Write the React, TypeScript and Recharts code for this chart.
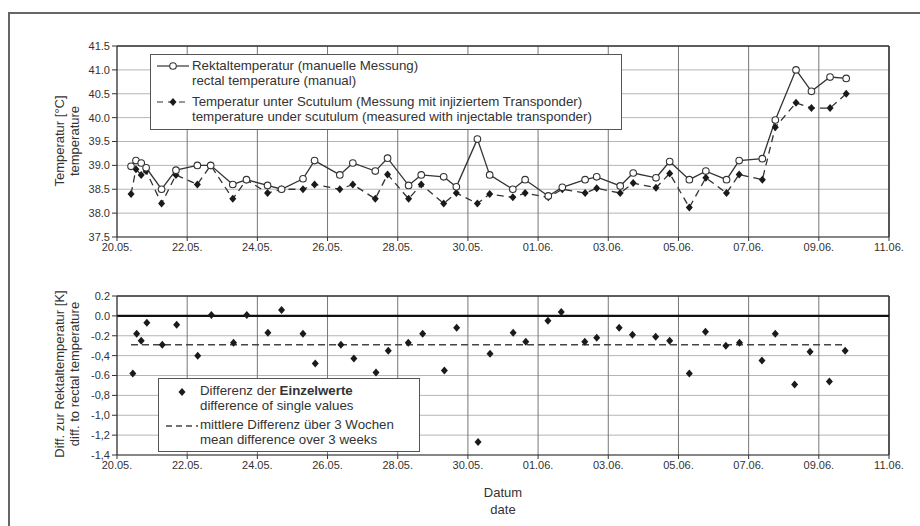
import React from 'react';
import { ComposedChart, Line, Scatter, XAxis, YAxis, CartesianGrid, ReferenceLine } from 'recharts';

// day offset from 20.05.
const dayTicks = [0, 2, 4, 6, 8, 10, 12, 14, 16, 18, 20, 22];
const dateLabels = ['20.05.', '22.05.', '24.05.', '26.05.', '28.05.', '30.05.', '01.06.', '03.06.', '05.06.', '07.06.', '09.06.', '11.06.'];

const tempTicks = [37.5, 38, 38.5, 39, 39.5, 40, 40.5, 41, 41.5];
const tempTickLabels = ['37.5', '38.0', '38.5', '39.0', '39.5', '40.0', '40.5', '41.0', '41.5'];

const diffTicks = [-1.4, -1.2, -1, -0.8, -0.6, -0.4, -0.2, 0, 0.2];
const diffTickLabels = ['-1,4', '-1,2', '-1,0', '-0,8', '-0.6', '-0,4', '-0.2', '0.0', '0.2'];

const measureDays = [0.40, 0.54, 0.69, 0.83, 1.27, 1.68, 2.29, 2.67, 3.30, 3.69, 4.29, 4.69, 5.30, 5.63, 6.35, 6.72, 7.36, 7.71, 8.31, 8.67, 9.31, 9.67, 10.27, 10.62, 11.28, 11.63, 12.29, 12.69, 13.34, 13.67, 14.34, 14.71, 15.36, 15.75, 16.31, 16.78, 17.37, 17.73, 18.39, 18.76, 19.35, 19.79, 20.32, 20.78];

const rectalTemp = [38.98, 39.1, 39.05, 38.95, 38.5, 38.9, 39.0, 39.0, 38.6, 38.7, 38.58, 38.5, 38.72, 39.1, 38.8, 39.05, 38.88, 39.15, 38.58, 38.8, 38.76, 38.55, 39.55, 38.8, 38.5, 38.7, 38.36, 38.54, 38.7, 38.76, 38.57, 38.84, 38.74, 39.08, 38.7, 38.88, 38.7, 39.1, 39.14, 39.95, 41.0, 40.55, 40.85, 40.82];

const scutulumTemp = [38.4, 38.92, 38.8, 38.88, 38.2, 38.8, 38.6, 39.0, 38.3, 38.7, 38.42, 38.5, 38.5, 38.6, 38.5, 38.6, 38.3, 38.81, 38.3, 38.6, 38.2, 38.42, 38.2, 38.4, 38.33, 38.42, 38.33, 38.5, 38.42, 38.52, 38.42, 38.63, 38.53, 38.83, 38.12, 38.74, 38.42, 38.81, 38.7, 39.8, 40.31, 40.2, 40.2, 40.5];

const diffDays = [0.45, 0.56, 0.69, 0.85, 1.29, 1.70, 2.30, 2.69, 3.32, 3.70, 4.30, 4.69, 5.30, 5.65, 6.38, 6.75, 7.38, 7.73, 8.30, 8.71, 9.33, 9.68, 10.29, 10.63, 11.29, 11.65, 12.28, 12.66, 13.33, 13.67, 14.31, 14.69, 15.35, 15.75, 16.31, 16.77, 17.35, 17.74, 18.38, 18.76, 19.31, 19.75, 20.30, 20.75];

const diffValues = [-0.58, -0.18, -0.25, -0.07, -0.29, -0.09, -0.40, 0.01, -0.27, 0.01, -0.17, 0.06, -0.18, -0.48, -0.29, -0.43, -0.57, -0.35, -0.27, -0.18, -0.55, -0.12, -1.27, -0.38, -0.17, -0.26, -0.05, 0.04, -0.26, -0.22, -0.12, -0.19, -0.21, -0.25, -0.58, -0.16, -0.30, -0.27, -0.45, -0.18, -0.69, -0.36, -0.66, -0.35];

const meanDays = [0.4, 20.75];
const meanValues = [-0.29, -0.29];

const tempData = measureDays.map((d, i) => ({ day: d, rectal: rectalTemp[i], scut: scutulumTemp[i] }));
const diffData = diffDays.map((d, i) => ({ day: d, diff: diffValues[i] }));
const meanData = meanDays.map((d, i) => ({ day: d, mean: meanValues[i] }));

const FONT = '"Liberation Sans", Arial, sans-serif';

const fmt = (ticks: number[], labels: string[]) => (v: number) => {
  const i = ticks.findIndex((t) => Math.abs(t - v) < 1e-6);
  return i >= 0 ? labels[i] : String(v);
};

const Diamond = (props: any) => {
  const { cx, cy } = props;
  if (cx == null || cy == null) return <g />;
  return <path d={`M${cx},${cy - 4} L${cx + 3.5},${cy} L${cx},${cy + 4} L${cx - 3.5},${cy} Z`} fill="#1a1a1a" />;
};

const OpenCircle = (props: any) => {
  const { cx, cy } = props;
  if (cx == null || cy == null) return <g />;
  return <circle cx={cx} cy={cy} r={3.3} fill="#fff" stroke="#333" strokeWidth={1.1} />;
};

const tickStyle = { fontSize: 11, fill: '#333', fontFamily: FONT };

const legendText: React.CSSProperties = { fontSize: 13.3, fontFamily: FONT, color: '#333', lineHeight: '16px', whiteSpace: 'nowrap' };

const titleStyle: React.CSSProperties = { position: 'absolute', fontSize: 13, fontFamily: FONT, color: '#333', whiteSpace: 'nowrap' };

export default function App() {
  return (
    <div style={{ position: 'absolute', left: 0, top: 0, width: 920, height: 526, background: '#fff', overflow: 'hidden' }}>
      <div style={{ position: 'absolute', left: 8, top: 12, width: 912, height: 514, borderLeft: '2px solid #666', borderTop: '2px solid #666' }} />

      <div style={{ position: 'absolute', left: 0, top: 0 }}>
        <ComposedChart width={920} height={262} data={tempData} margin={{ top: 46, right: 31, left: 57, bottom: 0 }}>
          <CartesianGrid vertical={false} stroke="#b5b5b5" />
          <CartesianGrid horizontal={false} stroke="#777" />
          <XAxis dataKey="day" type="number" domain={[0, 22]} ticks={dayTicks} tickFormatter={fmt(dayTicks, dateLabels)} height={25} tick={tickStyle} stroke="#333" tickSize={4} interval={0} />
          <YAxis type="number" domain={[37.5, 41.5]} ticks={tempTicks} tickFormatter={fmt(tempTicks, tempTickLabels)} width={60} tick={tickStyle} stroke="#333" tickSize={5} interval={0} />
          <ReferenceLine y={41.5} stroke="#333" strokeWidth={1.5} />
          <ReferenceLine x={22} stroke="#333" strokeWidth={1.5} />
          <Line type="linear" dataKey="scut" stroke="#333" strokeWidth={1.3} strokeDasharray="7 5" dot={<Diamond />} activeDot={false} isAnimationActive={false} />
          <Line type="linear" dataKey="rectal" stroke="#333" strokeWidth={1.3} dot={<OpenCircle />} activeDot={false} isAnimationActive={false} />
        </ComposedChart>
      </div>

      <div style={{ position: 'absolute', left: 0, top: 250 }}>
        <ComposedChart width={920} height={230} margin={{ top: 46, right: 31, left: 57, bottom: 0 }}>
          <CartesianGrid vertical={false} stroke="#b5b5b5" />
          <CartesianGrid horizontal={false} stroke="#777" />
          <XAxis dataKey="day" type="number" domain={[0, 22]} ticks={dayTicks} tickFormatter={fmt(dayTicks, dateLabels)} height={25} tick={tickStyle} stroke="#333" tickSize={4} interval={0} allowDuplicatedCategory={false} />
          <YAxis type="number" domain={[-1.4, 0.2]} ticks={diffTicks} tickFormatter={fmt(diffTicks, diffTickLabels)} width={60} tick={tickStyle} stroke="#333" tickSize={5} interval={0} />
          <ReferenceLine y={0.2} stroke="#333" strokeWidth={1.5} />
          <ReferenceLine x={22} stroke="#333" strokeWidth={1.5} />
          <ReferenceLine y={0} stroke="#111" strokeWidth={2.2} />
          <Line data={meanData} type="linear" dataKey="mean" stroke="#444" strokeWidth={1.4} strokeDasharray="7 4" dot={false} activeDot={false} isAnimationActive={false} />
          <Scatter data={diffData} dataKey="diff" shape={<Diamond />} isAnimationActive={false} />
        </ComposedChart>
      </div>

      {/* top legend */}
      <div style={{ position: 'absolute', left: 150, top: 54, width: 472, height: 76, border: '1px solid #555', background: '#fff', boxSizing: 'border-box' }}>
        <svg style={{ position: 'absolute', left: 4, top: 4 }} width={36} height={60}>
          <line x1={2} y1={7} x2={34} y2={7} stroke="#333" strokeWidth={1.2} />
          <circle cx={18} cy={7} r={3.3} fill="#fff" stroke="#333" strokeWidth={1.1} />
          <line x1={2} y1={43} x2={34} y2={43} stroke="#333" strokeWidth={1.2} strokeDasharray="6 5" />
          <path d="M18,39 L21.5,43 L18,47 L14.5,43 Z" fill="#1a1a1a" />
        </svg>
        <div style={{ ...legendText, position: 'absolute', left: 41, top: 3 }}>Rektaltemperatur (manuelle Messung)</div>
        <div style={{ ...legendText, position: 'absolute', left: 41, top: 18 }}>rectal temperature (manual)</div>
        <div style={{ ...legendText, position: 'absolute', left: 41, top: 39 }}>Temperatur unter Scutulum (Messung mit injiziertem Transponder)</div>
        <div style={{ ...legendText, position: 'absolute', left: 41, top: 54 }}>temperature under scutulum (measured with injectable transponder)</div>
      </div>

      {/* bottom legend */}
      <div style={{ position: 'absolute', left: 158, top: 378, width: 262, height: 74, border: '1px solid #555', background: '#fff', boxSizing: 'border-box' }}>
        <svg style={{ position: 'absolute', left: 4, top: 4 }} width={36} height={60}>
          <path d="M19,5 L22.5,9 L19,13 L15.5,9 Z" fill="#1a1a1a" />
          <line x1={3} y1={43} x2={35} y2={43} stroke="#444" strokeWidth={1.3} strokeDasharray="6 4" />
        </svg>
        <div style={{ ...legendText, position: 'absolute', left: 41, top: 4 }}>Differenz der <b>Einzelwerte</b></div>
        <div style={{ ...legendText, position: 'absolute', left: 41, top: 19 }}>difference of single values</div>
        <div style={{ ...legendText, position: 'absolute', left: 41, top: 38 }}>mittlere Differenz über 3 Wochen</div>
        <div style={{ ...legendText, position: 'absolute', left: 41, top: 53 }}>mean difference over 3 weeks</div>
      </div>

      {/* axis titles */}
      <div style={{ ...titleStyle, left: 59, top: 141, transform: 'translate(-50%, -50%) rotate(-90deg)' }}>Temperatur [°C]</div>
      <div style={{ ...titleStyle, left: 74, top: 141, transform: 'translate(-50%, -50%) rotate(-90deg)' }}>temperature</div>
      <div style={{ ...titleStyle, left: 59, top: 374, transform: 'translate(-50%, -50%) rotate(-90deg)' }}>Diff. zur Rektaltemperatur [K]</div>
      <div style={{ ...titleStyle, left: 74, top: 374, transform: 'translate(-50%, -50%) rotate(-90deg)' }}>diff. to rectal temperature</div>
      <div style={{ ...titleStyle, left: 503, top: 492, transform: 'translate(-50%, -50%)' }}>Datum</div>
      <div style={{ ...titleStyle, left: 503, top: 509, transform: 'translate(-50%, -50%)' }}>date</div>
    </div>
  );
}
